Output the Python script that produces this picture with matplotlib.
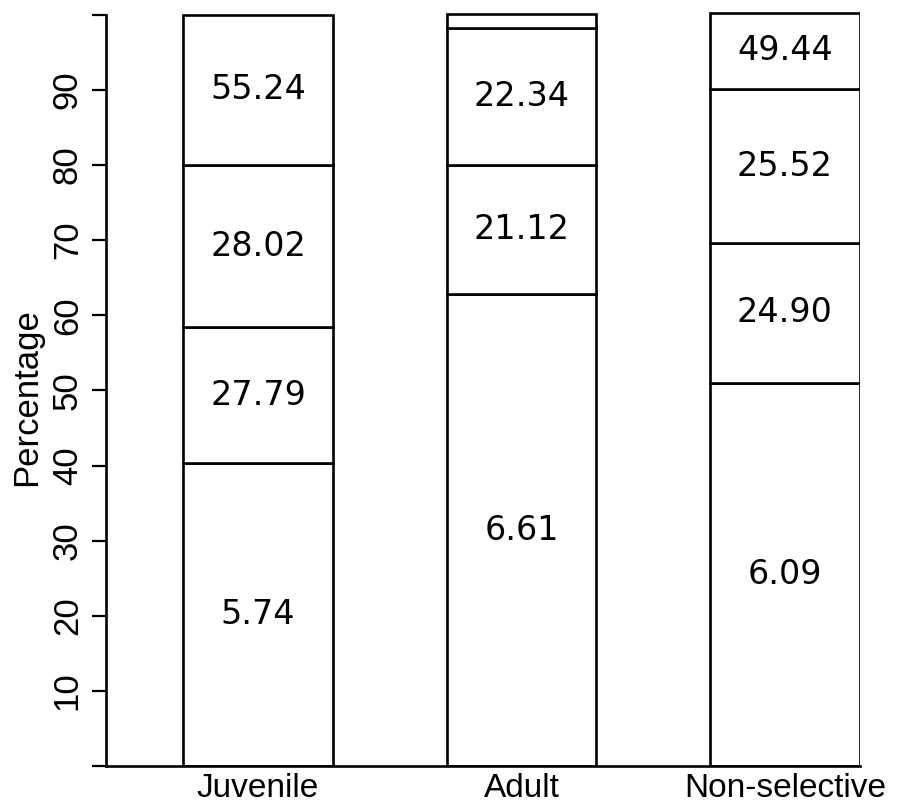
import matplotlib
matplotlib.use("Agg")
import matplotlib.pyplot as plt
import numpy as np

categories = ['Juvenile', 'Adult', 'Non-selective']
# stacked segment heights (percent), bottom to top
seg1 = [40.3, 62.8, 51.0]
seg2 = [18.1, 17.2, 18.6]
seg3 = [21.6, 18.3, 20.5]
seg4 = [20.0, 1.8, 10.2]
# numbers printed inside the segments
lab1 = ['5.74', '6.61', '6.09']
lab2 = ['27.79', '21.12', '24.90']
lab3 = ['28.02', '22.34', '25.52']
lab4 = ['55.24', '', '49.44']
yticks = [0, 10, 20, 30, 40, 50, 60, 70, 80, 90, 100]
ytick_labels = ['', '10', '20', '30', '40', '50', '60', '70', '80', '90', '']

plt.rcParams['font.family'] = ['Liberation Sans', 'DejaVu Sans']

fig = plt.figure(figsize=(9.24, 8.07), dpi=100)
ax = fig.add_axes([106/924, 41/807, 754/924, (766-11)/807])

x = np.arange(len(categories))
width = 0.569
bottom = np.zeros(len(categories))
for seg, labs in [(seg1, lab1), (seg2, lab2), (seg3, lab3), (seg4, lab4)]:
    seg = np.array(seg)
    ax.bar(x, seg, width=width, bottom=bottom, facecolor='white',
           edgecolor='black', linewidth=1.9, zorder=2)
    for xi, b, h, t in zip(x, bottom, seg, labs):
        if t:
            ax.text(xi, b + h / 2, t, ha='center', va='center',
                    fontsize=24, color='black', zorder=3,
                    family=['DejaVu Sans'])
    bottom = bottom + seg

ax.set_xlim(-0.577, 2.285)
ax.set_ylim(0, 100.5)
ax.set_yticks(yticks)
ax.set_yticklabels(ytick_labels, rotation=90, va='center', fontsize=25)
ax.set_xticks(x)
ax.set_xticklabels(categories, fontsize=24)
ax.tick_params(axis='y', length=10, width=1.6, pad=6, direction='out')
ax.tick_params(axis='x', length=0, pad=5)

ax.spines['top'].set_visible(False)
ax.spines['right'].set_visible(False)
ax.spines['left'].set_bounds(0, 100)
for s in ['left', 'bottom']:
    ax.spines[s].set_linewidth(1.9)

ax.set_ylabel('Percentage', fontsize=25)
ax.yaxis.set_label_coords(-0.083, 0.489)

fig.savefig('out.png', dpi=100)
